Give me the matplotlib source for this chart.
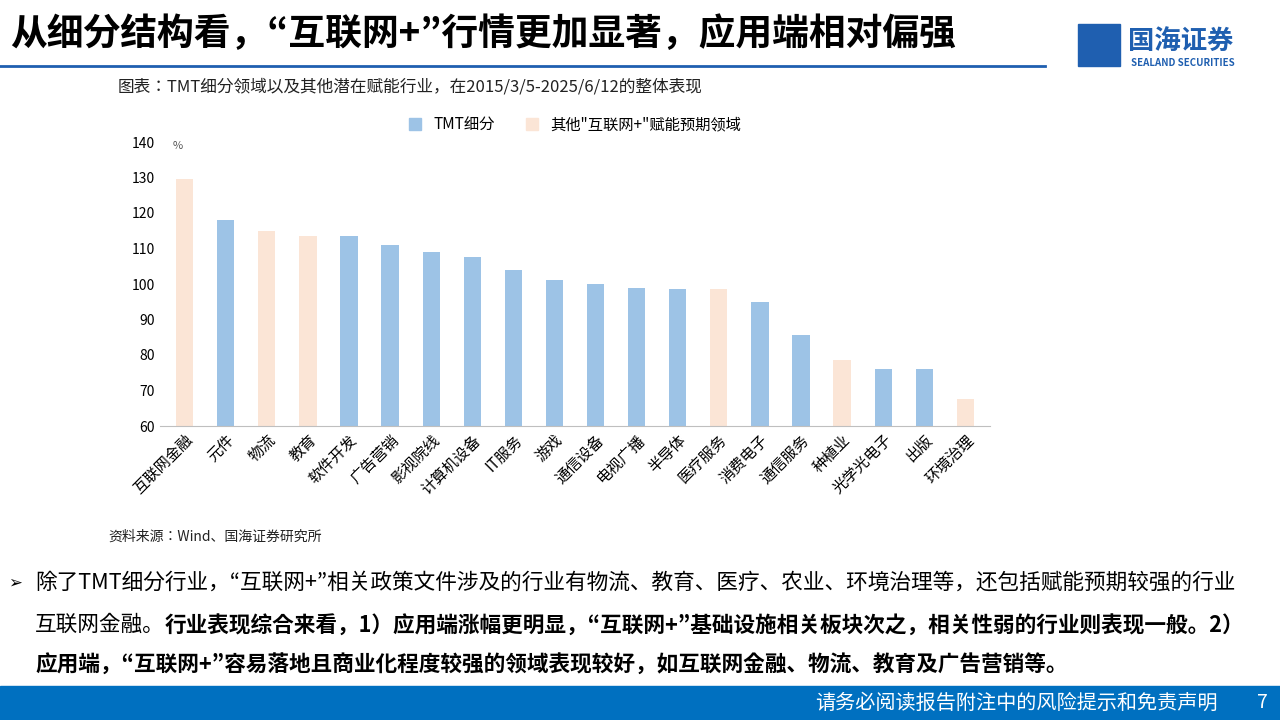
import matplotlib
matplotlib.use("Agg")
import matplotlib.pyplot as plt
from matplotlib.patches import Rectangle, Patch

plt.rcParams["font.family"] = "Noto Sans CJK JP"

categories = ["互联网金融", "元件", "物流", "教育", "软件开发", "广告营销", "影视院线", "计算机设备",
              "IT服务", "游戏", "通信设备", "电视广播", "半导体", "医疗服务", "消费电子", "通信服务",
              "种植业", "光学光电子", "出版", "环境治理"]
values = [129.5, 118, 115, 113.5, 113.5, 111, 109, 107.5, 104, 101, 100, 99, 98.7, 98.5, 95,
          85.5, 78.7, 76, 76, 67.5]
is_other = [1, 0, 1, 1, 0, 0, 0, 0, 0, 0, 0, 0, 0, 1, 0, 0, 1, 0, 0, 1]

BLUE = "#9DC3E6"
PINK = "#FBE5D6"

fig = plt.figure(figsize=(12.8, 7.2), dpi=100)
W, H = 1280, 720

def fx(x): return x / W
def fy(y): return 1 - y / H

# header
fig.text(fx(10), fy(35), "从细分结构看，“互联网+”行情更加显著，应用端相对偏强",
         fontsize=26.5, fontweight="bold", va="center")
fig.add_artist(plt.Line2D([0, fx(1045)], [fy(66), fy(66)], color="#1F5FB0", lw=2))
fig.add_artist(Rectangle((fx(1078), fy(66)), fx(42), fy(24) - fy(66), color="#1F5FB0",
                         transform=fig.transFigure))
fig.text(fx(1128), fy(41), "国海证券", fontsize=19, fontweight="bold", color="#1F5FB0", va="center")
fig.text(fx(1131), fy(63), "SEALAND SECURITIES", fontsize=7, fontweight="bold", color="#1F5FB0", va="center")
fig.text(fx(118), fy(87), "图表：TMT细分领域以及其他潜在赋能行业，在2015/3/5-2025/6/12的整体表现",
         fontsize=12, va="center", color="#222222")

ax = fig.add_axes([fx(160), fy(426), fx(990) - fx(160), fy(142) - fy(426)])
x = range(len(categories))
colors = [PINK if o else BLUE for o in is_other]
ax.bar(x, values, width=0.42, color=colors)
ax.set_ylim(60, 140)
ax.set_xlim(-0.6, len(categories) - 0.4)
ax.set_yticks(range(60, 141, 10))
ax.tick_params(axis="y", length=0, labelsize=10)
ax.tick_params(axis="x", length=0, pad=4)
ax.set_xticks(list(x))
ax.set_xticklabels(categories, rotation=45, ha="right", rotation_mode="anchor", fontsize=11)
for s in ["top", "right", "left"]:
    ax.spines[s].set_visible(False)
ax.spines["bottom"].set_color("#BFBFBF")
ax.text(-0.3, 139, "%", fontsize=8, color="#555555", va="center")
ax.legend(handles=[Patch(color=BLUE, label="TMT细分"), Patch(color=PINK, label="其他\"互联网+\"赋能预期领域")],
          loc="center", bbox_to_anchor=(0.5, 1.06), ncol=2, frameon=False, fontsize=11,
          handlelength=0.8, handleheight=0.8, columnspacing=2)

fig.text(fx(108), fy(537), "资料来源：Wind、国海证券研究所", fontsize=10, va="center", color="#222222")

# bullet text
fs = 15.6
fig.text(fx(8), fy(583), "➢", fontsize=12, va="center", family="DejaVu Sans")
fig.text(fx(35), fy(583), "除了TMT细分行业，“互联网+”相关政策文件涉及的行业有物流、教育、医疗、农业、环境治理等，还包括赋能预期较强的行业",
         fontsize=fs, va="center")
t1 = fig.text(fx(35), fy(625), "互联网金融。", fontsize=fs, va="center")
fig.canvas.draw()
bb = t1.get_window_extent()
fig.text(bb.x1 / W, fy(625), "行业表现综合来看，1）应用端涨幅更明显，“互联网+”基础设施相关板块次之，相关性弱的行业则表现一般。2）",
         fontsize=fs, fontweight="bold", va="center")
fig.text(fx(35), fy(664), "应用端，“互联网+”容易落地且商业化程度较强的领域表现较好，如互联网金融、物流、教育及广告营销等。",
         fontsize=fs, fontweight="bold", va="center")

# footer bar
fig.add_artist(Rectangle((0, 0), 1, fy(686), color="#0070C0", transform=fig.transFigure))
fig.text(fx(1218), fy(703), "请务必阅读报告附注中的风险提示和免责声明", fontsize=14.5, color="white",
         ha="right", va="center")
fig.text(fx(1262), fy(703), "7", fontsize=14, color="white", ha="center", va="center")

fig.savefig("out.png", dpi=100)
